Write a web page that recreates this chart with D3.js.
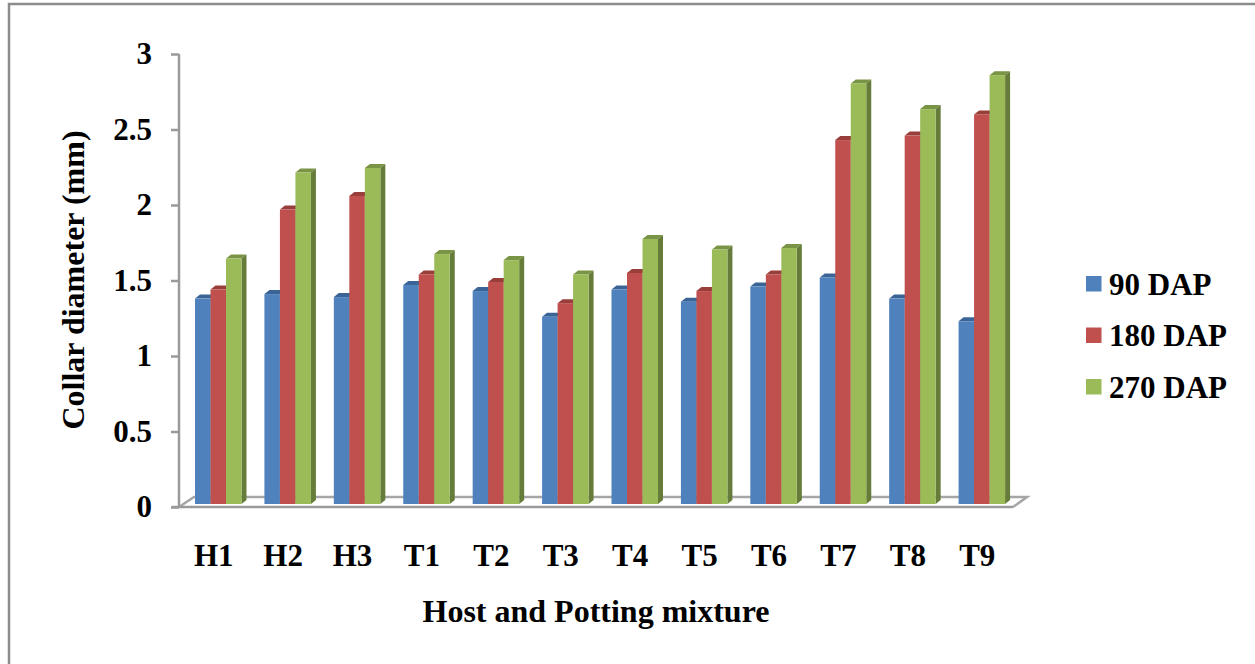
<!DOCTYPE html>
<html>
<head>
<meta charset="utf-8">
<script src="https://cdn.jsdelivr.net/npm/d3@7"></script>
<style>
  html, body { margin: 0; padding: 0; background: #fff; }
  text { font-family: "Liberation Serif", serif; font-weight: bold; fill: #000; }
</style>
</head>
<body>
<div id="chart"></div>
<script>
// values
var categories = ["H1", "H2", "H3", "T1", "T2", "T3", "T4", "T5", "T6", "T7", "T8", "T9"];
var seriesNames = ["90 DAP", "180 DAP", "270 DAP"];
var dap90 = [1.38, 1.41, 1.39, 1.47, 1.43, 1.26, 1.44, 1.36, 1.46, 1.52, 1.38, 1.23];
var dap180 = [1.44, 1.97, 2.06, 1.54, 1.49, 1.35, 1.55, 1.43, 1.54, 2.43, 2.46, 2.60];
var dap270 = [1.645, 2.215, 2.245, 1.675, 1.635, 1.54, 1.775, 1.705, 1.715, 2.805, 2.635, 2.86];
var yTicks = [0, 0.5, 1, 1.5, 2, 2.5, 3];

var front = ["#4f81bd", "#c0504d", "#9bbb59"];
var topCap = ["#3a6496", "#983e3b", "#7a9446"];
var side = ["#3c618f", "#8f3b39", "#667c3a"];
var grey = "#9a9a9a";

var width = 1255, height = 664;
var floorFront = 507, depthX = 5, depthY = 4;

var svg = d3.select("#chart")
  .append("svg")
    .attr("width", width)
    .attr("height", height)
    .style("display", "block");

// outer frame of the pasted chart, the right side is cropped away
svg.append("path")
  .attr("d", "M9,664V4H1255")
  .attr("fill", "none")
  .attr("stroke", "#8c8c8c")
  .attr("stroke-width", 2.5);

var x = d3.scaleBand()
  .domain(categories)
  .range([179, 1012]);

var y = d3.scaleLinear()
  .domain([0, 3])
  .range([floorFront, 54]);

var barX = d3.scaleBand()
  .domain(seriesNames)
  .range([0, 46.5]);

// floor of the 3d box
svg.append("path")
  .attr("d", "M179," + floorFront + "L194,497H1027L1013," + floorFront)
  .attr("fill", "none")
  .attr("stroke", "#a6a6a6")
  .attr("stroke-width", 2.5);

// y axis
var yAxis = svg.append("g")
  .attr("transform", "translate(179,0)")
  .call(d3.axisLeft(y).tickValues(yTicks).tickSize(8).tickPadding(19).tickFormat(d3.format("")));
yAxis.selectAll("line, path").attr("stroke", grey).attr("stroke-width", 2.5);
yAxis.select("path").attr("d", "M0,54V" + floorFront);
yAxis.selectAll("text").attr("font-size", 31);
yAxis.attr("font-family", null);

// x axis
var xAxis = svg.append("g")
  .attr("transform", "translate(0," + floorFront + ")")
  .call(d3.axisBottom(x).tickSize(0).tickPadding(37));
xAxis.select("path").attr("d", "M172,0H1013").attr("stroke", grey).attr("stroke-width", 2.5);
xAxis.selectAll("text").attr("font-size", 31);
xAxis.attr("font-family", null);

// bars, back to front
var allSeries = [dap90, dap180, dap270];
var barBase = 504;
allSeries.forEach(function(values, s) {
  var bw = barX.bandwidth();
  var g = svg.append("g");
  categories.forEach(function(c, i) {
    var x0 = x(c) + 16 + barX(seriesNames[s]);
    var top = y(values[i]);
    // top cap
    g.append("path")
      .attr("d", "M" + x0 + "," + top + "l" + depthX + "," + (-depthY) + "h" + bw + "l" + (-depthX) + "," + depthY + "z")
      .attr("fill", topCap[s]);
    // side face
    g.append("path")
      .attr("d", "M" + (x0 + bw) + "," + top + "l" + depthX + "," + (-depthY) + "V" + (barBase - depthY) + "l" + (-depthX) + "," + depthY + "z")
      .attr("fill", side[s]);
    // front
    g.append("rect")
      .attr("x", x0)
      .attr("y", top)
      .attr("width", bw)
      .attr("height", barBase - top)
      .attr("fill", front[s]);
  });
});

// axis titles
svg.append("text")
  .attr("x", 596)
  .attr("y", 622)
  .attr("text-anchor", "middle")
  .attr("font-size", 32)
  .text("Host and Potting mixture");

svg.append("text")
  .attr("transform", "translate(84,280) rotate(-90)")
  .attr("text-anchor", "middle")
  .attr("font-size", 32)
  .text("Collar diameter (mm)");

// legend
var legend = svg.selectAll(".legend")
  .data(seriesNames)
  .enter()
  .append("g")
    .attr("class", "legend")
    .attr("transform", function(d, i) { return "translate(1086," + (276 + i * 51.5) + ")"; });

legend.append("rect")
  .attr("width", 15.5)
  .attr("height", 15.5)
  .attr("fill", function(d, i) { return front[i]; });

legend.append("text")
  .attr("x", 23)
  .attr("y", 18.5)
  .attr("font-size", 31)
  .text(function(d) { return d; });
</script>
</body>
</html>
